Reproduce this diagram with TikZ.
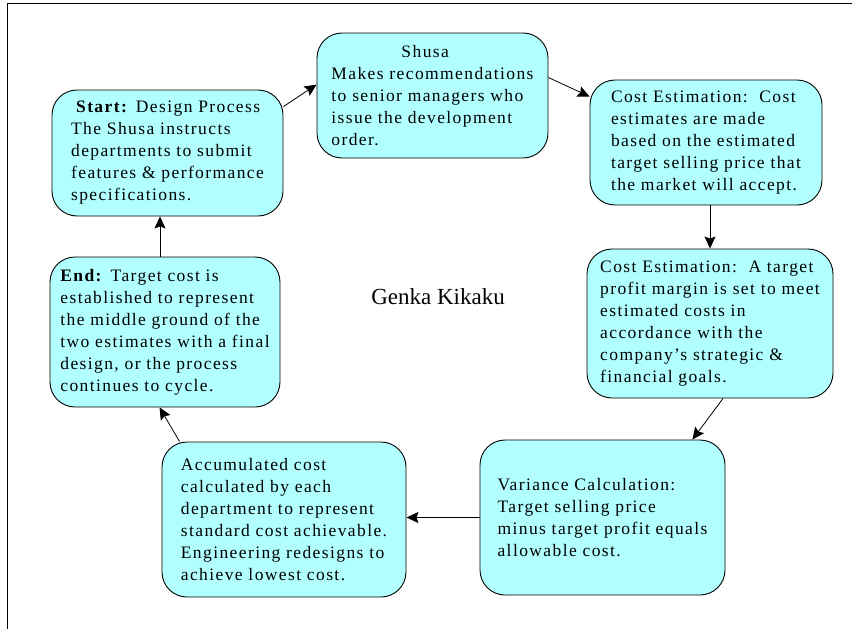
\documentclass[tikz,border=0pt]{standalone}
\usepackage{fontspec}
\setmainfont{Liberation Serif}
\newfontfamily\boxfont[LetterSpace=8]{Liberation Serif}
\usetikzlibrary{arrows.meta}
\definecolor{boxcyan}{RGB}{178,255,255}

\begin{document}
\begin{tikzpicture}[x=1pt,y=-1pt]

  \useasboundingbox (0,0) rectangle (852,629);

  % node styles
  \tikzstyle{Step}=[
  draw=black,
  fill=boxcyan,
  line width=0.9pt,
  rounded corners=25pt,
  shape=rectangle,
  align=left,
  inner sep=0pt,
  font=\boxfont\fontsize{17.5}{22}\selectfont]

  \tikzstyle{Link}=[line width=0.8pt,-{Stealth[length=12pt,width=11pt,inset=2pt]}]

  % frame
  \draw[line width=1.2pt] (852,3.5) -- (7.5,3.5) -- (7.5,629);

  \node[Step,minimum width=231pt,minimum height=126pt] (start) at (167.5,153)
    {\hspace*{5pt}\textbf{Start:} Design Process\\The Shusa instructs\\departments to submit\\features \& performance\\specifications.};
  \node[Step,minimum width=231pt,minimum height=125pt] (shusa) at (432.5,95.5)
    {\hspace*{70pt}Shusa\\Makes recommendations\\to senior managers who\\issue the development\\order.};
  \node[Step,minimum width=232pt,minimum height=125pt] (cost1) at (706,142.5)
    {Cost Estimation:\ \ Cost\\estimates are made\\based on the estimated\\target selling price that\\the market will accept.};
  \node[Step,minimum width=246pt,minimum height=149pt] (cost2) at (710,323.5)
    {Cost Estimation:\ \ A target\\profit margin is set to meet\\estimated costs in\\accordance with the\\company’s strategic \&\\financial goals.};
  \node[Step,minimum width=245pt,minimum height=155pt] (variance) at (602.5,517.5)
    {Variance Calculation:\\Target selling price\\minus target profit equals\\allowable cost.};
  \node[Step,minimum width=244pt,minimum height=155pt] (accum) at (284,519.5)
    {Accumulated cost\\calculated by each\\department to represent\\standard cost achievable.\\Engineering redesigns to\\achieve lowest cost.};
  \node[Step,minimum width=230pt,minimum height=150pt] (end) at (165,332)
    {\textbf{End:} Target cost is\\established to represent\\the middle ground of the\\two estimates with a final\\design, or the process\\continues to cycle.};

  \node[font=\fontsize{23}{28}\selectfont] (title) at (438,297) {Genka Kikaku};

  \draw[Link] ([yshift=-17pt]start.north east) -- ([yshift=-52pt]shusa.north west);
  \draw[Link] ([yshift=-45pt]shusa.north east) -- ([yshift=-17pt]cost1.north west);
  \draw[Link] (cost1.south -| cost2.north) -- (cost2.north);
  \draw[Link] ([xshift=13pt]cost2.south) -- ([xshift=-33pt]variance.north east);
  \draw[Link] (variance.west) -- (variance.west -| accum.east);
  \draw[Link] ([xshift=18pt]accum.north west) -- ([xshift=110pt]end.south west);
  \draw[Link] ([xshift=-5pt]end.north) -- ([xshift=-7.5pt]start.south);

\end{tikzpicture}
\end{document}
